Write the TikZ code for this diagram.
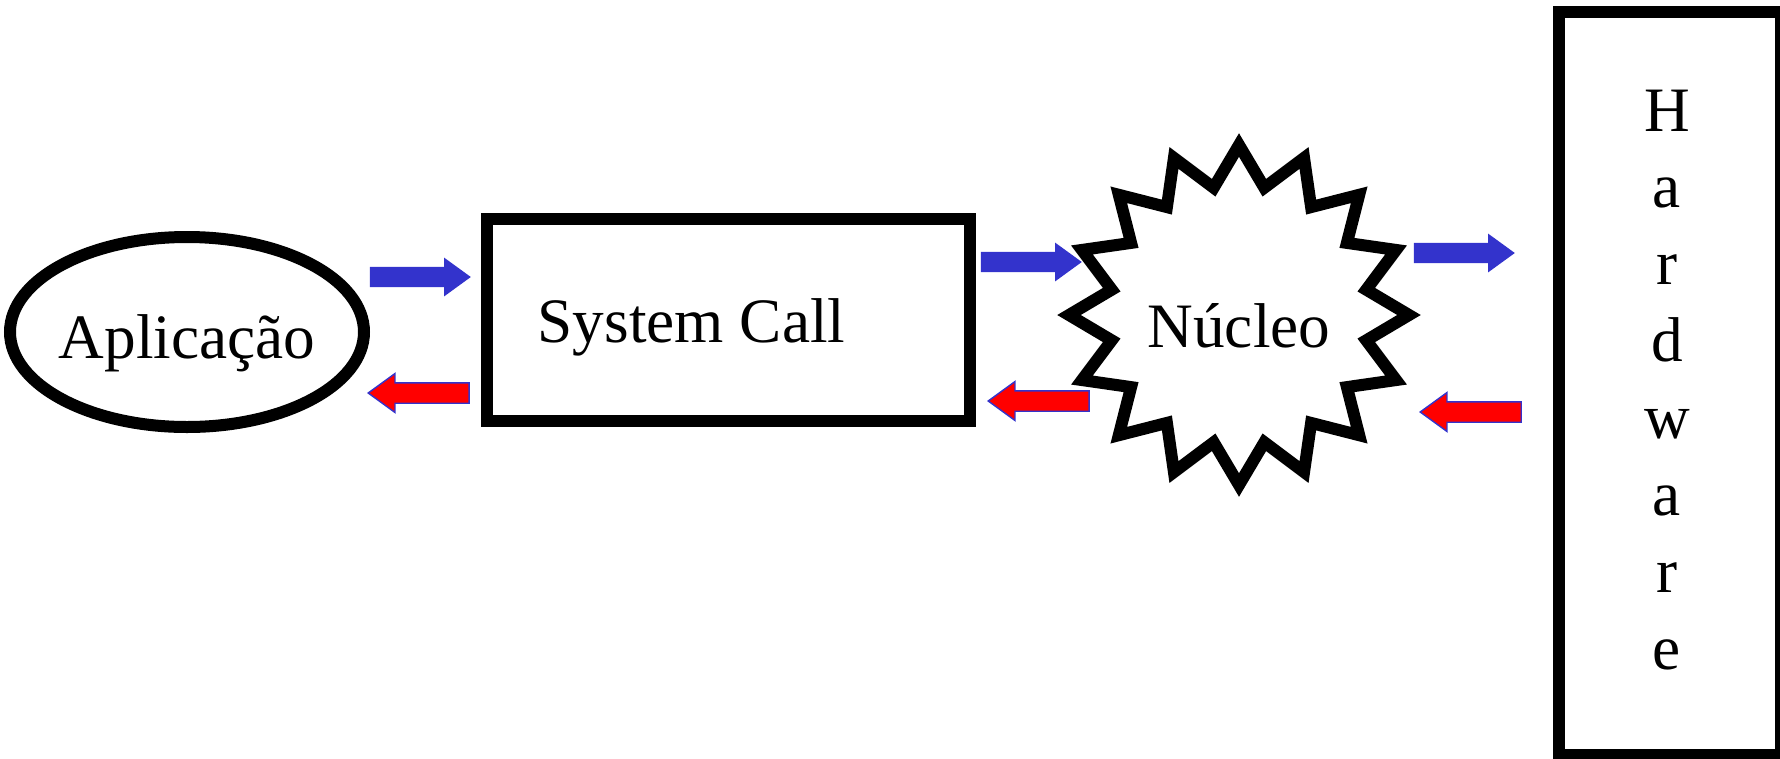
\documentclass[tikz,border=0pt]{standalone}
\usepackage{fontspec}
\setmainfont{Liberation Serif}
\usetikzlibrary{shapes.geometric,shapes.arrows}

\definecolor{callblue}{RGB}{51,51,204}

\begin{document}
\begin{tikzpicture}[
    font=\fontsize{18}{21}\selectfont,
    thickline/.style={draw, line width=0.12cm},
    blockarrow/.style={single arrow, minimum height=1.01cm, inner xsep=0pt,
        inner ysep=0.095cm, single arrow head extend=0.0925cm,
        single arrow tip angle=72, anchor=tip},
    callarrow/.style={blockarrow, fill=callblue},
    retarrow/.style={blockarrow, fill=red, draw=callblue, line width=0.4pt,
        shape border rotate=180},
]
    \useasboundingbox (0,0) rectangle (17.8,7.58);

    % Application
    \node[thickline, ellipse, minimum width=3.54cm, minimum height=1.90cm] (app) at (1.87,4.26) {};
    \node[anchor=base] (apptext) at (1.87,4.00) {Aplicação};

    % System call
    \node[thickline, rectangle, minimum width=4.83cm, minimum height=2.02cm] (syscall) at (7.285,4.38) {};
    \node[anchor=base] (syscalltext) at (6.915,4.16) {System Call};

    % Kernel
    \node[thickline, star, star points=16, star point ratio=1.31, minimum size=3.40cm, inner sep=0pt] (kernel) at (12.39,4.43) {};
    \node[anchor=base] (kerneltext) at (12.39,4.11) {Núcleo};

    % Hardware, one letter per line
    \node[thickline, rectangle, minimum width=2.22cm, minimum height=7.43cm] (hw) at (16.70,3.745) {};
    \foreach \ch [count=\i from 0] in {H,a,r,d,w,a,r,e}
        \node[anchor=base] (hw\i) at (16.67,{6.27-0.769*\i}) {\ch};

    % Calls going down, returns coming back (placed by their tips)
    \node[callarrow] (call1) at (4.72,4.81) {};
    \node[retarrow] (ret1) at (3.67,3.65) {};
    \node[callarrow] (call2) at (10.83,4.96) {};
    \node[retarrow] (ret2) at (9.87,3.57) {};
    \node[callarrow] (call3) at (15.16,5.05) {};
    \node[retarrow] (ret3) at (14.19,3.46) {};
\end{tikzpicture}
\end{document}
